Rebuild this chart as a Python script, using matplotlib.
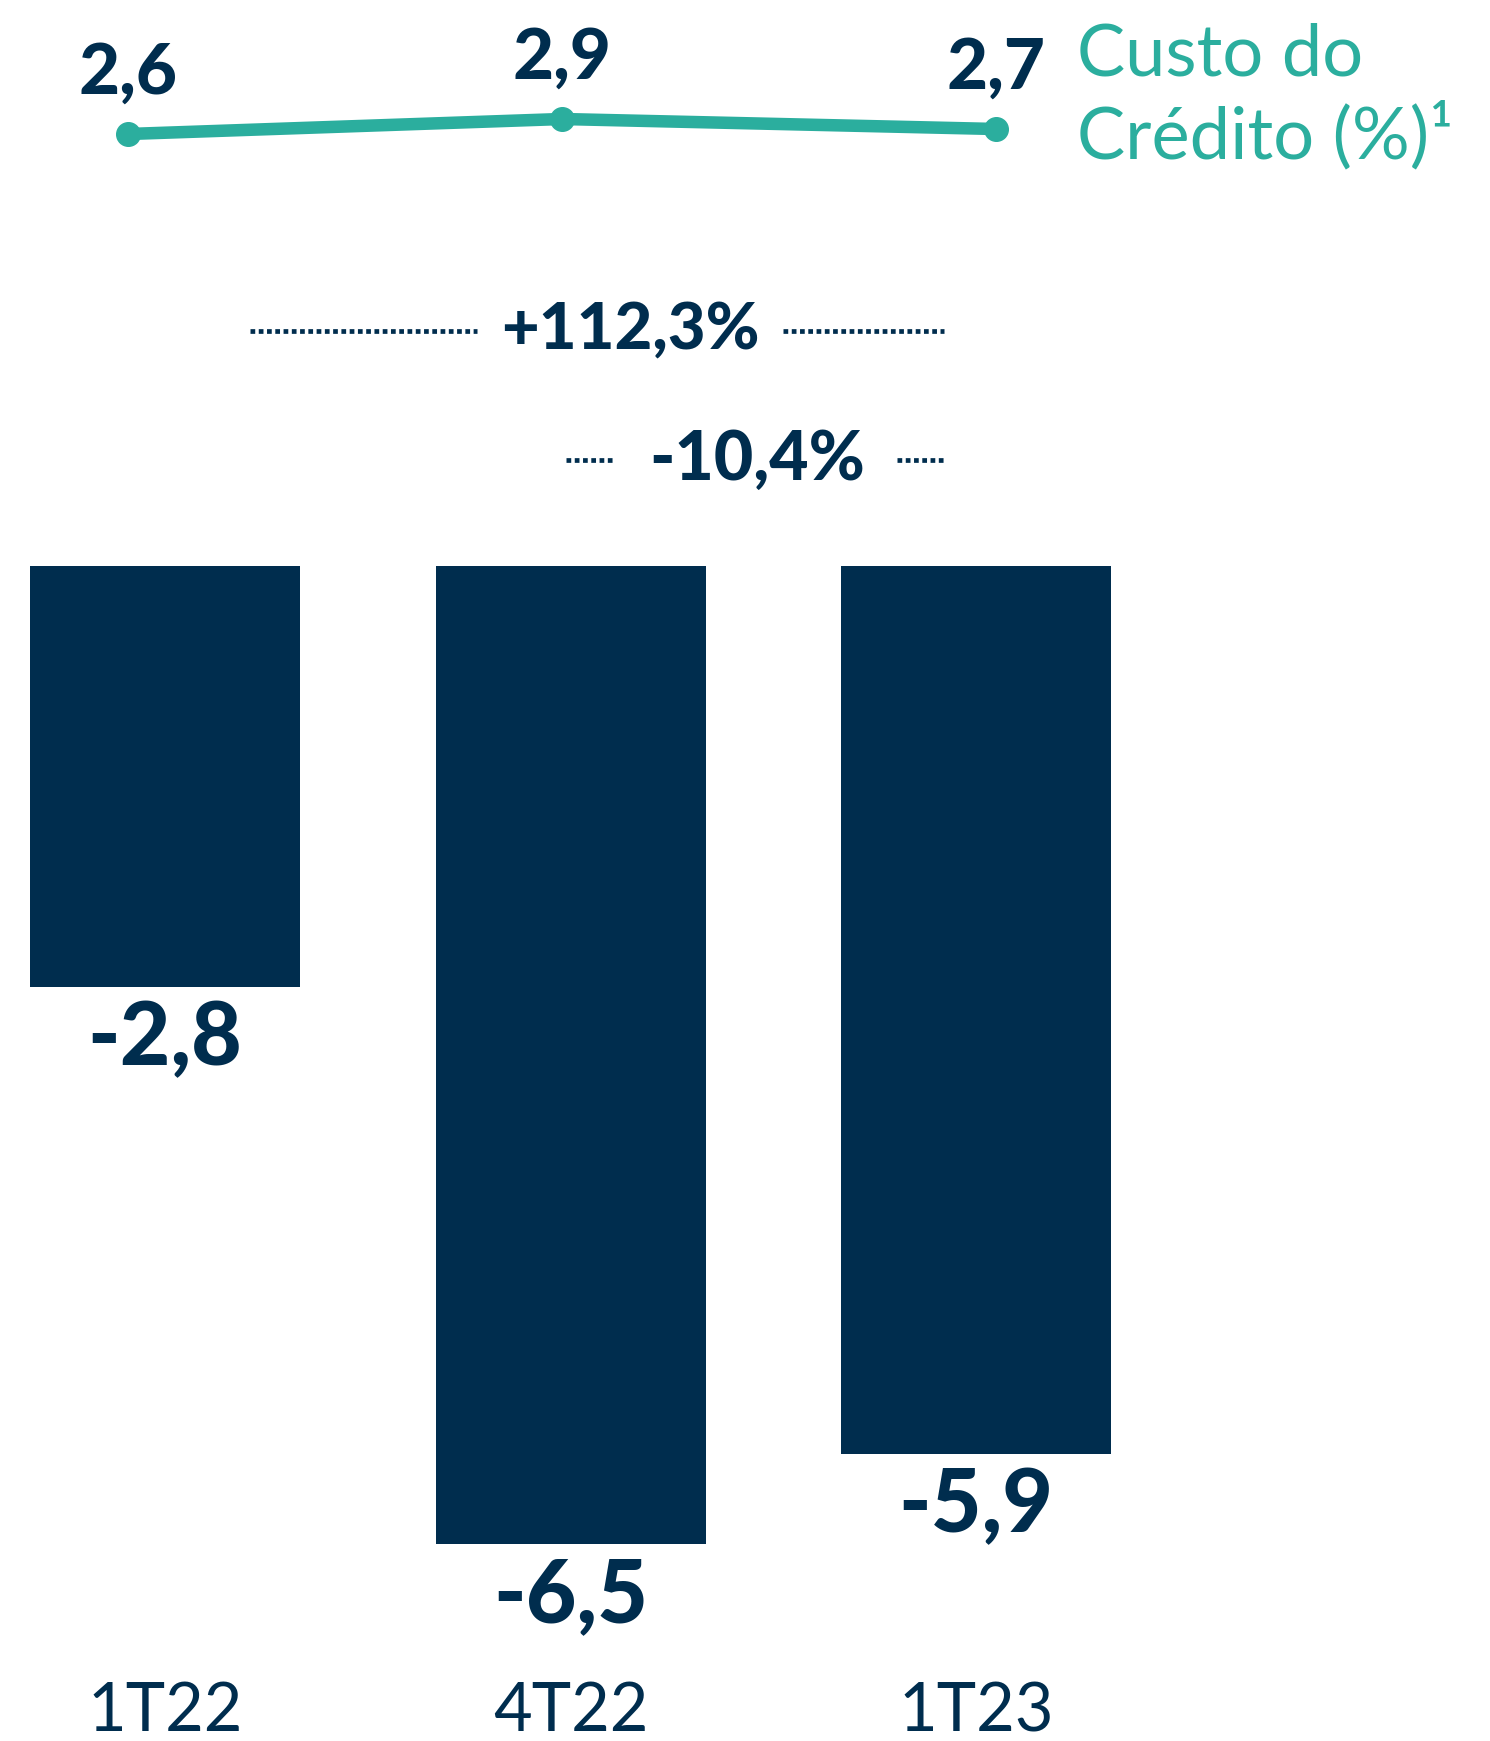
import matplotlib
matplotlib.use("Agg")
import matplotlib.pyplot as plt
import matplotlib.transforms as mtransforms

plt.rcParams['font.family'] = ['Lato', 'DejaVu Sans']

# data
quarters = ['1T22', '4T22', '1T23']
provisao = [-2.8, -6.5, -5.9]
provisao_labels = ['-2,8', '-6,5', '-5,9']
custo_credito = [2.6, 2.9, 2.7]
custo_labels = ['2,6', '2,9', '2,7']
var_anual = '+112,3%'
var_trim = '-10,4%'

navy = '#002D4E'
teal = '#2BAE9E'

W, H = 1490, 1741
fig = plt.figure(figsize=(W / 100, H / 100), dpi=100)

# bar axes covers the whole figure; limits place bars where the reference has them
ax = fig.add_axes([0, 0, 1, 1])
px_x = 405.5
ax.set_xlim(-165 / px_x, (W - 165) / px_x)
px_y = 150.5
ax.set_ylim(-(H - 566) / px_y, 566 / px_y)
ax.axis('off')

x = range(len(quarters))
bars = ax.bar(x, provisao, width=270 / px_x, color=navy)

for xi, v, lab in zip(x, provisao, provisao_labels):
    ax.annotate(lab, (xi, v), xytext=(0, -56), textcoords='offset points',
                ha='center', va='baseline', fontsize=63, fontweight=900, color=navy)

# category labels along the bottom
trans = mtransforms.blended_transform_factory(ax.transData, fig.transFigure)
for xi, q in zip(x, quarters):
    ax.text(xi, 10 / H, q, transform=trans, ha='center', va='baseline',
            fontsize=48, color=navy)

# variation brackets (dotted)
def dotted(y, x0, x1):
    ax.plot([x0, x1], [y, y], color=navy, lw=3.4, linestyle=(0, (1, 0.75)),
            solid_capstyle='butt', dash_capstyle='butt')

y1 = (566 - 331) / px_y
dotted(y1, 0.21, 0.77)
dotted(y1, 1.524, 1.92)
ax.text(1.147, y1, var_anual, ha='center', va='center', fontsize=47,
        fontweight=900, color=navy)

y2 = (566 - 460) / px_y
dotted(y2, 0.99, 1.105)
dotted(y2, 1.805, 1.92)
ax.text(1.46, y2, var_trim, ha='center', va='center', fontsize=49,
        fontweight=900, color=navy)

# line axes (cost of credit) on top
ax2 = fig.add_axes([0, 0, 1, 1])
lx = 434.0
ax2.set_xlim(-128 / lx, (W - 128) / lx)
ly = 50.0
ax2.set_ylim(2.6 - (H - 134) / ly, 2.6 + 134 / ly)
ax2.axis('off')
ax2.plot(list(x), custo_credito, color=teal, lw=9, marker='o', markersize=17,
         solid_capstyle='round')
for xi, v, lab in zip(x, custo_credito, custo_labels):
    ax2.annotate(lab, (xi, v), xytext=(0, 29), textcoords='offset points',
                 ha='center', va='baseline', fontsize=51, fontweight=900, color=navy)

fig.text(1077 / W, 1 - 75 / H, 'Custo do', ha='left', va='baseline',
         fontsize=52, color=teal)
fig.text(1077 / W, 1 - 158 / H, 'Crédito (%)¹', ha='left', va='baseline',
         fontsize=52, color=teal)

fig.savefig('out.png', dpi=100)
